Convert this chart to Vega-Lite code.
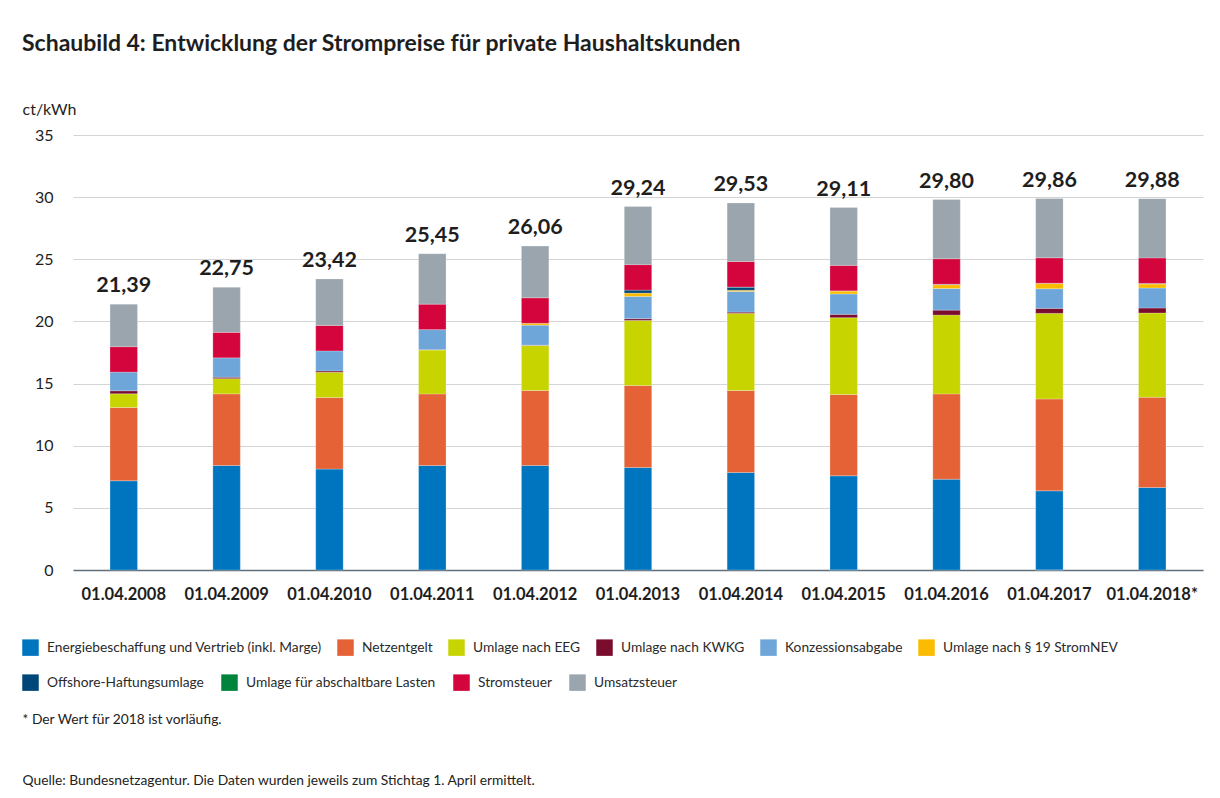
{
  "$schema": "https://vega.github.io/schema/vega-lite/v6.json",
  "autosize": {"type": "none"},
  "width": 1130,
  "height": 435,
  "padding": {"left": 73, "top": 135, "right": 17, "bottom": 228},
  "background": "white",
  "title": {
    "text": "Schaubild 4: Entwicklung der Strompreise für private Haushaltskunden",
    "anchor": "start",
    "frame": "group",
    "dx": -51,
    "dy": -23,
    "font": "Lato",
    "fontSize": 23,
    "fontWeight": "bold",
    "color": "#1e1e1e",
    "baseline": "alphabetic",
    "offset": 4
  },
  "datasets": {
    "parts": [
      {"d": "01.04.2008", "k": "Energiebeschaffung und Vertrieb (inkl. Marge)", "v": 7.18},
      {"d": "01.04.2008", "k": "Netzentgelt", "v": 5.90},
      {"d": "01.04.2008", "k": "Umlage nach EEG", "v": 1.10},
      {"d": "01.04.2008", "k": "Umlage nach KWKG", "v": 0.24},
      {"d": "01.04.2008", "k": "Konzessionsabgabe", "v": 1.50},
      {"d": "01.04.2008", "k": "Stromsteuer", "v": 2.05},
      {"d": "01.04.2008", "k": "Umsatzsteuer", "v": 3.42},

      {"d": "01.04.2009", "k": "Energiebeschaffung und Vertrieb (inkl. Marge)", "v": 8.41},
      {"d": "01.04.2009", "k": "Netzentgelt", "v": 5.76},
      {"d": "01.04.2009", "k": "Umlage nach EEG", "v": 1.23},
      {"d": "01.04.2009", "k": "Umlage nach KWKG", "v": 0.11},
      {"d": "01.04.2009", "k": "Konzessionsabgabe", "v": 1.56},
      {"d": "01.04.2009", "k": "Stromsteuer", "v": 2.05},
      {"d": "01.04.2009", "k": "Umsatzsteuer", "v": 3.63},

      {"d": "01.04.2010", "k": "Energiebeschaffung und Vertrieb (inkl. Marge)", "v": 8.12},
      {"d": "01.04.2010", "k": "Netzentgelt", "v": 5.75},
      {"d": "01.04.2010", "k": "Umlage nach EEG", "v": 2.04},
      {"d": "01.04.2010", "k": "Umlage nach KWKG", "v": 0.11},
      {"d": "01.04.2010", "k": "Konzessionsabgabe", "v": 1.61},
      {"d": "01.04.2010", "k": "Stromsteuer", "v": 2.05},
      {"d": "01.04.2010", "k": "Umsatzsteuer", "v": 3.74},

      {"d": "01.04.2011", "k": "Energiebeschaffung und Vertrieb (inkl. Marge)", "v": 8.41},
      {"d": "01.04.2011", "k": "Netzentgelt", "v": 5.76},
      {"d": "01.04.2011", "k": "Umlage nach EEG", "v": 3.53},
      {"d": "01.04.2011", "k": "Umlage nach KWKG", "v": 0.03},
      {"d": "01.04.2011", "k": "Konzessionsabgabe", "v": 1.61},
      {"d": "01.04.2011", "k": "Stromsteuer", "v": 2.05},
      {"d": "01.04.2011", "k": "Umsatzsteuer", "v": 4.06},

      {"d": "01.04.2012", "k": "Energiebeschaffung und Vertrieb (inkl. Marge)", "v": 8.41},
      {"d": "01.04.2012", "k": "Netzentgelt", "v": 6.03},
      {"d": "01.04.2012", "k": "Umlage nach EEG", "v": 3.63},
      {"d": "01.04.2012", "k": "Umlage nach KWKG", "v": 0.02},
      {"d": "01.04.2012", "k": "Konzessionsabgabe", "v": 1.61},
      {"d": "01.04.2012", "k": "Umlage nach § 19 StromNEV", "v": 0.15},
      {"d": "01.04.2012", "k": "Stromsteuer", "v": 2.05},
      {"d": "01.04.2012", "k": "Umsatzsteuer", "v": 4.16},

      {"d": "01.04.2013", "k": "Energiebeschaffung und Vertrieb (inkl. Marge)", "v": 8.25},
      {"d": "01.04.2013", "k": "Netzentgelt", "v": 6.59},
      {"d": "01.04.2013", "k": "Umlage nach EEG", "v": 5.24},
      {"d": "01.04.2013", "k": "Umlage nach KWKG", "v": 0.14},
      {"d": "01.04.2013", "k": "Konzessionsabgabe", "v": 1.79},
      {"d": "01.04.2013", "k": "Umlage nach § 19 StromNEV", "v": 0.27},
      {"d": "01.04.2013", "k": "Offshore-Haftungsumlage", "v": 0.24},
      {"d": "01.04.2013", "k": "Stromsteuer", "v": 2.05},
      {"d": "01.04.2013", "k": "Umsatzsteuer", "v": 4.67},

      {"d": "01.04.2014", "k": "Energiebeschaffung und Vertrieb (inkl. Marge)", "v": 7.85},
      {"d": "01.04.2014", "k": "Netzentgelt", "v": 6.59},
      {"d": "01.04.2014", "k": "Umlage nach EEG", "v": 6.21},
      {"d": "01.04.2014", "k": "Umlage nach KWKG", "v": 0.10},
      {"d": "01.04.2014", "k": "Konzessionsabgabe", "v": 1.66},
      {"d": "01.04.2014", "k": "Umlage nach § 19 StromNEV", "v": 0.10},
      {"d": "01.04.2014", "k": "Offshore-Haftungsumlage", "v": 0.25},
      {"d": "01.04.2014", "k": "Umlage für abschaltbare Lasten", "v": 0.01},
      {"d": "01.04.2014", "k": "Stromsteuer", "v": 2.05},
      {"d": "01.04.2014", "k": "Umsatzsteuer", "v": 4.71},

      {"d": "01.04.2015", "k": "Energiebeschaffung und Vertrieb (inkl. Marge)", "v": 7.58},
      {"d": "01.04.2015", "k": "Netzentgelt", "v": 6.54},
      {"d": "01.04.2015", "k": "Umlage nach EEG", "v": 6.18},
      {"d": "01.04.2015", "k": "Umlage nach KWKG", "v": 0.27},
      {"d": "01.04.2015", "k": "Konzessionsabgabe", "v": 1.64},
      {"d": "01.04.2015", "k": "Umlage nach § 19 StromNEV", "v": 0.24},
      {"d": "01.04.2015", "k": "Offshore-Haftungsumlage", "v": -0.05},
      {"d": "01.04.2015", "k": "Umlage für abschaltbare Lasten", "v": 0.01},
      {"d": "01.04.2015", "k": "Stromsteuer", "v": 2.05},
      {"d": "01.04.2015", "k": "Umsatzsteuer", "v": 4.65},

      {"d": "01.04.2016", "k": "Energiebeschaffung und Vertrieb (inkl. Marge)", "v": 7.31},
      {"d": "01.04.2016", "k": "Netzentgelt", "v": 6.86},
      {"d": "01.04.2016", "k": "Umlage nach EEG", "v": 6.34},
      {"d": "01.04.2016", "k": "Umlage nach KWKG", "v": 0.40},
      {"d": "01.04.2016", "k": "Konzessionsabgabe", "v": 1.74},
      {"d": "01.04.2016", "k": "Umlage nach § 19 StromNEV", "v": 0.30},
      {"d": "01.04.2016", "k": "Offshore-Haftungsumlage", "v": 0.04},
      {"d": "01.04.2016", "k": "Umlage für abschaltbare Lasten", "v": 0.002},
      {"d": "01.04.2016", "k": "Stromsteuer", "v": 2.05},
      {"d": "01.04.2016", "k": "Umsatzsteuer", "v": 4.76},

      {"d": "01.04.2017", "k": "Energiebeschaffung und Vertrieb (inkl. Marge)", "v": 6.37},
      {"d": "01.04.2017", "k": "Netzentgelt", "v": 7.39},
      {"d": "01.04.2017", "k": "Umlage nach EEG", "v": 6.89},
      {"d": "01.04.2017", "k": "Umlage nach KWKG", "v": 0.40},
      {"d": "01.04.2017", "k": "Konzessionsabgabe", "v": 1.58},
      {"d": "01.04.2017", "k": "Umlage nach § 19 StromNEV", "v": 0.43},
      {"d": "01.04.2017", "k": "Offshore-Haftungsumlage", "v": -0.03},
      {"d": "01.04.2017", "k": "Umlage für abschaltbare Lasten", "v": 0.01},
      {"d": "01.04.2017", "k": "Stromsteuer", "v": 2.05},
      {"d": "01.04.2017", "k": "Umsatzsteuer", "v": 4.77},

      {"d": "01.04.2018*", "k": "Energiebeschaffung und Vertrieb (inkl. Marge)", "v": 6.64},
      {"d": "01.04.2018*", "k": "Netzentgelt", "v": 7.26},
      {"d": "01.04.2018*", "k": "Umlage nach EEG", "v": 6.78},
      {"d": "01.04.2018*", "k": "Umlage nach KWKG", "v": 0.40},
      {"d": "01.04.2018*", "k": "Konzessionsabgabe", "v": 1.61},
      {"d": "01.04.2018*", "k": "Umlage nach § 19 StromNEV", "v": 0.32},
      {"d": "01.04.2018*", "k": "Offshore-Haftungsumlage", "v": 0.04},
      {"d": "01.04.2018*", "k": "Umlage für abschaltbare Lasten", "v": 0.01},
      {"d": "01.04.2018*", "k": "Stromsteuer", "v": 2.05},
      {"d": "01.04.2018*", "k": "Umsatzsteuer", "v": 4.77}
    ],
    "totals": [
      {"d": "01.04.2008", "y0": 21.39, "label": "21,39"},
      {"d": "01.04.2009", "y0": 22.75, "label": "22,75"},
      {"d": "01.04.2010", "y0": 23.42, "label": "23,42"},
      {"d": "01.04.2011", "y0": 25.45, "label": "25,45"},
      {"d": "01.04.2012", "y0": 26.06, "label": "26,06"},
      {"d": "01.04.2013", "y0": 29.24, "label": "29,24"},
      {"d": "01.04.2014", "y0": 29.53, "label": "29,53"},
      {"d": "01.04.2015", "y0": 29.11, "label": "29,11"},
      {"d": "01.04.2016", "y0": 29.80, "label": "29,80"},
      {"d": "01.04.2017", "y0": 29.86, "label": "29,86"},
      {"d": "01.04.2018*", "y0": 29.88, "label": "29,88"}
    ],
    "cats": [
      {"k": "Energiebeschaffung und Vertrieb (inkl. Marge)", "r": 1},
      {"k": "Netzentgelt", "r": 2},
      {"k": "Umlage nach EEG", "r": 3},
      {"k": "Umlage nach KWKG", "r": 4},
      {"k": "Konzessionsabgabe", "r": 5},
      {"k": "Umlage nach § 19 StromNEV", "r": 6},
      {"k": "Offshore-Haftungsumlage", "r": 7},
      {"k": "Umlage für abschaltbare Lasten", "r": 8},
      {"k": "Stromsteuer", "r": 9},
      {"k": "Umsatzsteuer", "r": 10}
    ]
  },
  "encoding": {
    "x": {
      "field": "d",
      "type": "nominal",
      "scale": {"paddingInner": 0.733, "paddingOuter": 0.36},
      "axis": {
        "title": ["* Der Wert für 2018 ist vorläufig.", "Quelle: Bundesnetzagentur. Die Daten wurden jeweils zum Stichtag 1. April ermittelt."],
        "titleX": -51,
        "titleY": 153,
        "titleAlign": "left",
        "titleAnchor": "start",
        "titleBaseline": "alphabetic",
        "titleFont": "Lato",
        "titleFontSize": 13.8,
        "titleFontWeight": "normal",
        "titleColor": "#222",
        "titleLineHeight": 61,
        "labelAngle": 0,
        "labelFont": "Lato",
        "labelFontSize": 16.5,
        "labelFontWeight": "bold",
        "labelColor": "#1e1e1e",
        "labelPadding": 16,
        "ticks": false,
        "domain": true,
        "domainColor": "#5f6f7c",
        "domainWidth": 1.5,
        "grid": false
      }
    },
    "y": {
      "field": "y0",
      "type": "quantitative",
      "scale": {"domain": [0, 35], "nice": false, "zero": true},
      "axis": {
        "values": [0, 5, 10, 15, 20, 25, 30, 35],
        "title": "ct/kWh",
        "titleAngle": 0,
        "titleAlign": "left",
        "titleAnchor": "start",
        "titleBaseline": "alphabetic",
        "titleX": -51,
        "titleY": -21,
        "titleFont": "Lato",
        "titleFontSize": 16,
        "titleFontWeight": "normal",
        "titleColor": "#1e1e1e",
        "labelFont": "Lato",
        "labelFontSize": 16,
        "labelColor": "#1e1e1e",
        "labelPadding": 20,
        "ticks": false,
        "domain": false,
        "grid": true,
        "gridColor": "#d4d4d4",
        "gridWidth": 1.2
      }
    }
  },
  "layer": [
    {
      "data": {"name": "parts"},
      "transform": [
        {"lookup": "k", "from": {"data": {"name": "cats"}, "key": "k", "fields": ["r"]}},
        {"stack": "v", "groupby": ["d"], "sort": [{"field": "r", "order": "ascending"}], "as": ["y0", "y1"], "offset": "zero"},
        {"filter": "datum.r <= 6"}
      ],
      "mark": {"type": "bar", "stroke": "white", "strokeWidth": 0.4, "strokeOpacity": 0.6},
      "encoding": {
        "y2": {"field": "y1"},
        "color": {
          "field": "k",
          "type": "nominal",
          "scale": {
            "domain": [
              "Energiebeschaffung und Vertrieb (inkl. Marge)",
              "Netzentgelt",
              "Umlage nach EEG",
              "Umlage nach KWKG",
              "Konzessionsabgabe",
              "Umlage nach § 19 StromNEV"
            ],
            "range": ["#0075bf", "#e46235", "#c8d400", "#7a0c2e", "#6ea6d9", "#fbbb00"]
          },
          "legend": {
            "title": null,
            "orient": "none",
            "legendX": -51,
            "legendY": 504,
            "direction": "horizontal",
            "symbolType": "square",
            "symbolSize": 272,
            "symbolStrokeWidth": 0,
            "symbolOpacity": 1,
            "labelFont": "Lato",
            "labelFontSize": 13.75,
            "labelColor": "#2a2a2a",
            "labelOffset": 8,
            "labelLimit": 400,
            "columnPadding": 15,
            "padding": 0
          }
        }
      }
    },
    {
      "data": {"name": "parts"},
      "transform": [
        {"lookup": "k", "from": {"data": {"name": "cats"}, "key": "k", "fields": ["r"]}},
        {"stack": "v", "groupby": ["d"], "sort": [{"field": "r", "order": "ascending"}], "as": ["y0", "y1"], "offset": "zero"},
        {"filter": "datum.r > 6"}
      ],
      "mark": {"type": "bar", "stroke": "white", "strokeWidth": 0.4, "strokeOpacity": 0.6},
      "encoding": {
        "y2": {"field": "y1"},
        "color": {
          "field": "k",
          "type": "nominal",
          "scale": {
            "domain": [
              "Offshore-Haftungsumlage",
              "Umlage für abschaltbare Lasten",
              "Stromsteuer",
              "Umsatzsteuer"
            ],
            "range": ["#004779", "#00843c", "#d4043c", "#9aa5ad"]
          },
          "legend": {
            "title": null,
            "orient": "none",
            "legendX": -51,
            "legendY": 539,
            "direction": "horizontal",
            "symbolType": "square",
            "symbolSize": 272,
            "symbolStrokeWidth": 0,
            "symbolOpacity": 1,
            "labelFont": "Lato",
            "labelFontSize": 13.75,
            "labelColor": "#2a2a2a",
            "labelOffset": 8,
            "labelLimit": 400,
            "columnPadding": 17,
            "padding": 0
          }
        }
      }
    },
    {
      "data": {"name": "totals"},
      "mark": {"type": "text", "font": "Lato", "fontSize": 21.5, "fontWeight": "bold", "color": "#1e1e1e", "baseline": "alphabetic", "dy": -12},
      "encoding": {
        "text": {"field": "label"}
      }
    }
  ],
  "resolve": {"scale": {"color": "independent"}},
  "config": {
    "view": {"stroke": null},
    "font": "Lato"
  }
}
